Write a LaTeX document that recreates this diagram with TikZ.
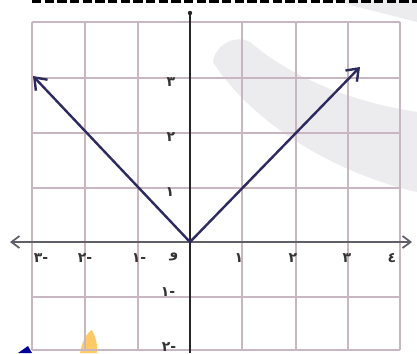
\documentclass[tikz,border=0pt]{standalone}
\usepackage{fontspec}
\newfontfamily\arabicfont[Script=Arabic]{DejaVu Sans}
\newfontfamily\digfont{DejaVu Sans}
\usetikzlibrary{arrows.meta}
\definecolor{gridc}{RGB}{200,182,192}
\definecolor{axisc}{RGB}{95,95,105}
\definecolor{vlinec}{RGB}{45,42,95}
\definecolor{wmark}{RGB}{236,236,238}
\tikzset{
  gridline/.style={draw=gridc, line width=1.4pt},
  xaxis/.style={draw=axisc, line width=1.3pt, {Straight Barb[length=6pt,width=9pt]}-{Straight Barb[length=6pt,width=9pt]}},
  yaxis/.style={draw=black!85, line width=1.8pt},
  vline/.style={draw=vlinec, line width=1.8pt, {Straight Barb[length=8pt,width=12pt]}-{Straight Barb[length=8pt,width=12pt]}},
  lbl/.style={font=\digfont\bfseries\fontsize{10.5}{10.5}\selectfont, text=black!80, inner sep=0pt},
  albl/.style={font=\arabicfont\bfseries\fontsize{10.5}{10.5}\selectfont, text=black!80, inner sep=0pt}
}
\begin{document}
\begin{tikzpicture}[x=0.75pt,y=-0.75pt]
\useasboundingbox (0,0) rectangle (417,353);
\fill[white] (0,0) rectangle (417,353);
% watermark
\fill[wmark] (213,62) .. controls (250,120) and (330,172) .. (417,192) -- (417,112)
  .. controls (340,100) and (285,72) .. (250,42) .. controls (235,34) and (215,45) .. cycle;
\fill[wmark] (330,0) .. controls (370,10) .. (417,22) -- (417,0) -- cycle;
% small logo fragments
\fill[orange!70!yellow, opacity=0.6] (80,353) .. controls (82,340) and (88,332) .. (92,330) .. controls (96,338) and (98,346) .. (97,353) -- cycle;
\fill[blue!60!black] (18,353) -- (28,346) -- (32,353) -- cycle;
% dashed top line
\draw[black, line width=2pt, dash pattern=on 7pt off 2.5pt] (32,1.5) -- (417,1.5);
% grid
\foreach \gx in {32,85,138,242,296,348,400} \draw[gridline] (\gx,22) -- (\gx,350);
\foreach \gy in {22,78,133,188,297,350} \draw[gridline] (32,\gy) -- (400,\gy);
% axes
\coordinate (xl) at (10,242);
\coordinate (xr) at (412,242);
\coordinate (yb) at (190,353);
\coordinate (yt) at (190,13);
\draw[xaxis] (xl) -- (xr);
\draw[yaxis] (yb) -- (yt);
\fill[black!85] (yt) circle (2.2);
% V graph
\coordinate (o) at (190,242);
\coordinate (pl) at (33,76);
\coordinate (pr) at (360,67);
\draw[vline, line join=miter] (pl) -- (o) -- (pr);
% x labels
\node[lbl] (xm3) at (41,258) {٣-};
\node[lbl] (xm2) at (85,258) {٢-};
\node[lbl] (xm1) at (139,258) {١-};
\node[albl] (x0) at (174,257) {و};
\node[lbl] (x1) at (239,258) {١};
\node[lbl] (x2) at (293,258) {٢};
\node[lbl] (x3) at (347,258) {٣};
\node[lbl] (x4) at (392,258) {٤};
% y labels
\node[lbl] (y3) at (171,82) {٣};
\node[lbl] (y2) at (171,137) {٢};
\node[lbl] (y1) at (170,192) {١};
\node[lbl] (ym1) at (168,292) {١-};
\node[lbl] (ym2) at (169,347) {٢-};
\end{tikzpicture}
\end{document}
